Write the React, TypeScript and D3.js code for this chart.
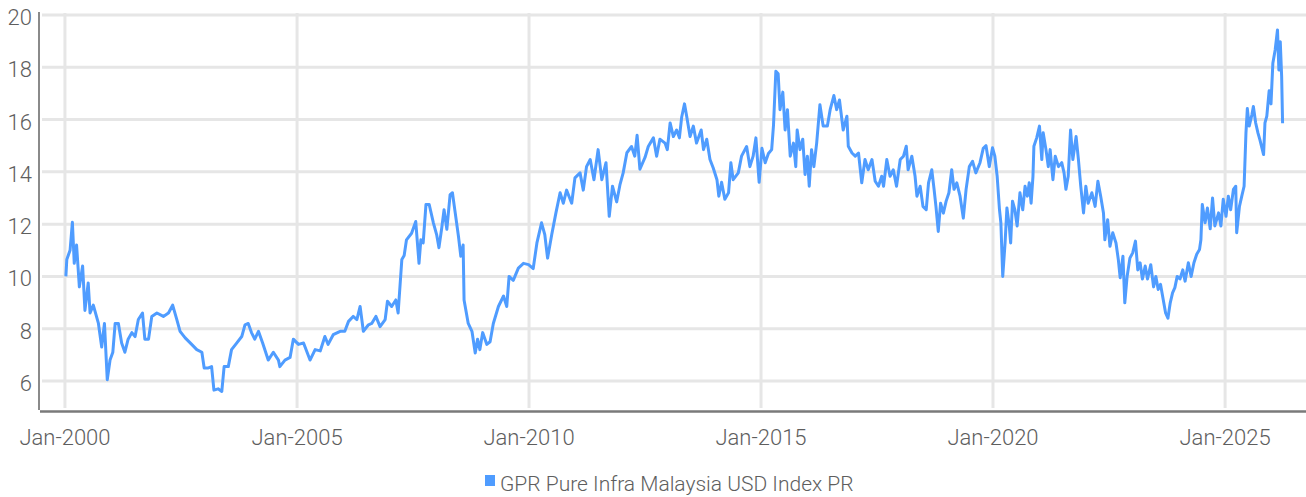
import * as d3 from "d3";
import React from "react";

// decimal years, paired with index values
const years = [
  2000.02, 2000.04, 2000.11, 2000.16, 2000.2, 2000.25, 2000.31, 2000.38, 2000.43, 2000.5,
  2000.54, 2000.61, 2000.72, 2000.79, 2000.85, 2000.91, 2000.97, 2001.03, 2001.08, 2001.15,
  2001.22, 2001.29, 2001.36, 2001.44, 2001.51, 2001.58, 2001.67, 2001.72, 2001.8, 2001.87,
  2001.98, 2002.12, 2002.23, 2002.32, 2002.41, 2002.48, 2002.59, 2002.73, 2002.84, 2002.95,
  2003.0, 2003.09, 2003.16, 2003.21, 2003.3, 2003.38, 2003.43, 2003.52, 2003.59, 2003.7,
  2003.81, 2003.88, 2003.95, 2004.02, 2004.09, 2004.17, 2004.26, 2004.38, 2004.49, 2004.6,
  2004.63, 2004.74, 2004.85, 2004.92, 2005.03, 2005.14, 2005.28, 2005.39, 2005.5, 2005.6,
  2005.67, 2005.78, 2005.93, 2006.03, 2006.11, 2006.21, 2006.29, 2006.36, 2006.43, 2006.54,
  2006.61, 2006.7, 2006.79, 2006.9, 2006.95, 2007.04, 2007.13, 2007.18, 2007.26, 2007.31,
  2007.36, 2007.47, 2007.56, 2007.63, 2007.67, 2007.72, 2007.78, 2007.85, 2007.94, 2008.01,
  2008.06, 2008.12, 2008.17, 2008.23, 2008.3, 2008.35, 2008.41, 2008.48, 2008.53, 2008.58,
  2008.6, 2008.69, 2008.77, 2008.84, 2008.89, 2008.94, 2009.0, 2009.09, 2009.16, 2009.23,
  2009.34, 2009.45, 2009.52, 2009.57, 2009.66, 2009.77, 2009.88, 2009.99, 2010.09, 2010.17,
  2010.27, 2010.34, 2010.4, 2010.49, 2010.58, 2010.67, 2010.74, 2010.81, 2010.92, 2010.99,
  2011.1, 2011.17, 2011.24, 2011.32, 2011.4, 2011.49, 2011.57, 2011.66, 2011.73, 2011.8,
  2011.89, 2011.96, 2012.03, 2012.11, 2012.21, 2012.28, 2012.33, 2012.39, 2012.5, 2012.57,
  2012.68, 2012.75, 2012.82, 2012.93, 2012.98, 2013.04, 2013.11, 2013.18, 2013.24, 2013.29,
  2013.35, 2013.4, 2013.47, 2013.54, 2013.61, 2013.71, 2013.76, 2013.83, 2013.9, 2013.97,
  2014.05, 2014.09, 2014.15, 2014.22, 2014.3, 2014.35, 2014.4, 2014.51, 2014.58, 2014.69,
  2014.76, 2014.83, 2014.89, 2014.96, 2015.02, 2015.09, 2015.16, 2015.23, 2015.27, 2015.32,
  2015.37, 2015.41, 2015.47, 2015.52, 2015.57, 2015.63, 2015.7, 2015.75, 2015.78, 2015.84,
  2015.9, 2015.95, 2016.0, 2016.04, 2016.09, 2016.14, 2016.2, 2016.27, 2016.34, 2016.43,
  2016.49, 2016.57, 2016.63, 2016.69, 2016.77, 2016.85, 2016.88, 2016.96, 2017.03, 2017.1,
  2017.17, 2017.24, 2017.31, 2017.39, 2017.46, 2017.53, 2017.6, 2017.64, 2017.71, 2017.78,
  2017.85, 2017.92, 2018.0, 2018.07, 2018.13, 2018.17, 2018.25, 2018.32, 2018.36, 2018.43,
  2018.49, 2018.56, 2018.61, 2018.68, 2018.73, 2018.77, 2018.82, 2018.87, 2018.93, 2018.99,
  2019.05, 2019.11, 2019.16, 2019.22, 2019.29, 2019.36, 2019.42, 2019.49, 2019.56, 2019.63,
  2019.72, 2019.79, 2019.85, 2019.92, 2019.99, 2020.04, 2020.09, 2020.14, 2020.17, 2020.21,
  2020.26, 2020.3, 2020.35, 2020.38, 2020.42, 2020.47, 2020.52, 2020.58, 2020.64, 2020.69,
  2020.74, 2020.78, 2020.82, 2020.86, 2020.88, 2020.94, 2021.0, 2021.05, 2021.08, 2021.14,
  2021.19, 2021.23, 2021.29, 2021.34, 2021.41, 2021.48, 2021.53, 2021.57, 2021.62, 2021.67,
  2021.72, 2021.79, 2021.84, 2021.89, 2021.95, 2022.0, 2022.05, 2022.13, 2022.2, 2022.26,
  2022.32, 2022.38, 2022.41, 2022.47, 2022.52, 2022.58, 2022.65, 2022.7, 2022.74, 2022.8,
  2022.84, 2022.89, 2022.95, 2023.01, 2023.07, 2023.12, 2023.17, 2023.22, 2023.28, 2023.33,
  2023.4, 2023.46, 2023.51, 2023.56, 2023.61, 2023.67, 2023.72, 2023.77, 2023.82, 2023.87,
  2023.92, 2023.97, 2024.03, 2024.09, 2024.14, 2024.21, 2024.27, 2024.33, 2024.39, 2024.45,
  2024.48, 2024.51, 2024.57, 2024.62, 2024.68, 2024.73, 2024.78, 2024.86, 2024.91, 2024.96,
  2025.02, 2025.07, 2025.12, 2025.18, 2025.23, 2025.25, 2025.31, 2025.36, 2025.41, 2025.45,
  2025.48, 2025.52, 2025.58, 2025.61, 2025.66, 2025.71, 2025.75, 2025.83, 2025.86, 2025.9,
  2025.95, 2025.99, 2026.03, 2026.08, 2026.13, 2026.16, 2026.19, 2026.22, 2026.24,
];

const values = [
  10.0, 10.65, 11.0, 12.07, 10.5, 11.2, 9.6, 10.4, 8.7, 9.75,
  8.6, 8.9, 8.2, 7.3, 8.2, 6.05, 6.8, 7.1, 8.2, 8.2,
  7.45, 7.1, 7.6, 7.85, 7.7, 8.35, 8.6, 7.6, 7.6, 8.47,
  8.6, 8.47, 8.6, 8.9, 8.35, 7.9, 7.65, 7.4, 7.2, 7.1,
  6.5, 6.5, 6.55, 5.65, 5.7, 5.6, 6.55, 6.55, 7.2, 7.45,
  7.7, 8.15, 8.2, 7.85, 7.6, 7.9, 7.45, 6.8, 7.1, 6.8,
  6.55, 6.8, 6.9, 7.6, 7.4, 7.45, 6.8, 7.2, 7.15, 7.7,
  7.4, 7.77, 7.9, 7.9, 8.28, 8.47, 8.35, 8.85, 7.9, 8.15,
  8.2, 8.47, 8.08, 8.35, 9.05, 8.85, 9.1, 8.6, 10.65, 10.8,
  11.4, 11.65, 12.1, 10.5, 11.4, 11.28, 12.75, 12.75, 12.05, 11.6,
  11.1, 11.85, 12.55, 11.8, 13.13, 13.2, 12.43, 11.53, 10.77, 11.2,
  9.1, 8.2, 7.9, 7.07, 7.6, 7.2, 7.85, 7.4, 7.5, 8.2,
  8.85, 9.25, 8.85, 10.0, 9.85, 10.32, 10.5, 10.45, 10.3, 11.28,
  12.05, 11.6, 10.7, 11.6, 12.43, 13.2, 12.8, 13.3, 12.8, 13.77,
  13.96, 13.3, 14.2, 14.47, 13.7, 14.85, 13.7, 14.35, 12.3, 13.45,
  12.85, 13.5, 13.96, 14.73, 14.97, 14.6, 15.4, 14.1, 14.55, 14.97,
  15.3, 14.6, 15.25, 15.1, 14.85, 15.87, 15.35, 15.6, 15.3, 16.1,
  16.6, 16.1, 15.35, 15.75, 15.1, 15.6, 14.85, 15.25, 14.47, 14.15,
  13.7, 13.07, 13.6, 12.95, 13.2, 14.35, 13.7, 13.96, 14.6, 14.97,
  14.2, 14.6, 15.3, 13.6, 14.9, 14.35, 14.7, 14.85, 15.8, 17.85,
  17.75, 16.38, 17.05, 15.6, 16.38, 14.6, 15.1, 14.2, 15.6, 14.85,
  15.25, 13.9, 14.6, 13.45, 14.85, 14.2, 15.1, 16.57, 15.75, 15.75,
  16.38, 16.92, 16.38, 16.75, 15.6, 16.13, 14.98, 14.72, 14.6, 14.72,
  13.58, 14.47, 14.08, 14.47, 13.64, 13.45, 13.83, 13.45, 14.47, 13.83,
  14.08, 13.45, 14.47, 14.6, 14.98, 14.08, 14.6, 13.83, 13.07, 13.45,
  12.68, 12.55, 13.58, 14.08, 13.33, 12.68, 11.72, 12.8, 12.42, 12.88,
  13.2, 14.08, 13.33, 13.58, 13.07, 12.23, 13.33, 14.2, 14.4, 13.96,
  14.35, 14.9, 15.0, 14.2, 14.92, 14.6, 13.83, 12.55, 12.05, 10.0,
  11.28, 12.62, 11.93, 11.28, 12.88, 12.55, 11.93, 13.2, 12.55, 13.45,
  13.07, 13.58, 12.8, 13.83, 14.98, 15.3, 15.75, 14.47, 15.5, 14.85,
  14.2, 14.85, 13.7, 14.6, 14.2, 14.35, 13.96, 13.33, 13.83, 15.6,
  14.47, 15.35, 14.47, 13.45, 12.43, 13.45, 12.8, 13.2, 12.68, 13.64,
  13.07, 12.43, 11.4, 12.17, 11.15, 11.67, 11.28, 10.65, 9.95, 10.77,
  8.99, 10.0, 10.7, 10.9, 11.35, 10.25, 10.52, 9.9, 10.4, 9.9,
  10.45, 9.6, 10.0, 9.5, 9.7, 9.1, 8.6, 8.4, 8.99, 9.37,
  9.57, 10.0, 9.9, 10.25, 9.82, 10.52, 10.0, 10.52, 10.85, 11.03,
  11.4, 12.75, 12.05, 12.62, 11.82, 13.0, 11.93, 12.43, 11.93, 12.95,
  12.3, 13.07, 12.55, 13.33, 13.45, 11.67, 12.68, 13.07, 13.45, 15.48,
  16.42, 15.75, 16.2, 16.5, 15.87, 15.48, 15.23, 14.66, 15.87, 16.13,
  17.1, 16.6, 18.15, 18.66, 19.43, 17.9, 18.98, 17.64, 15.86,
];

const xTickYears = [2000, 2005, 2010, 2015, 2020, 2025];
const xTickLabels = ["Jan-2000", "Jan-2005", "Jan-2010", "Jan-2015", "Jan-2020", "Jan-2025"];
const yTicks = [6, 8, 10, 12, 14, 16, 18, 20];
const seriesName = "GPR Pure Infra Malaysia USD Index PR";

const WIDTH = 1306;
const HEIGHT = 497;
const LINE = "#4f9cff";
const GRID = "#e6e6e6";
const TEXT = "#5e5e5e";
const FONT = "Roboto, 'Liberation Sans', sans-serif";

const toDate = (yr: number) => {
  const y = Math.floor(yr);
  const start = new Date(y, 0, 1).getTime();
  const end = new Date(y + 1, 0, 1).getTime();
  return new Date(start + (yr - y) * (end - start));
};

export default function App() {
  const left = 40;
  const right = WIDTH;
  const top = 13;
  const bottom = 410;

  const x = d3
    .scaleTime()
    .domain([toDate(1999.462), toDate(2026.745)])
    .range([left, right]);

  const y = d3.scaleLinear().domain([4.89, 20]).range([bottom, 15]);

  const data = years.map((yr, i) => ({ date: toDate(yr), value: values[i] }));

  const line = d3
    .line<{ date: Date; value: number }>()
    .x((d) => x(d.date))
    .y((d) => y(d.value));

  return (
    <svg
      width={WIDTH}
      height={HEIGHT}
      style={{ position: "absolute", left: 0, top: 0, background: "#fff" }}
      fontFamily={FONT}
    >
      {/* horizontal grid */}
      {yTicks.map((t) => (
        <line key={"h" + t} x1={left + 2} x2={right} y1={y(t)} y2={y(t)} stroke={GRID} strokeWidth={3} />
      ))}
      {/* vertical grid */}
      {xTickYears.map((yr) => (
        <line
          key={"v" + yr}
          x1={x(toDate(yr))}
          x2={x(toDate(yr))}
          y1={top}
          y2={bottom - 2}
          stroke={GRID}
          strokeWidth={3}
        />
      ))}

      {/* axes */}
      <line x1={39} x2={39} y1={12} y2={bottom} stroke="#8a8a8a" strokeWidth={2} />
      <line x1={left} x2={right} y1={bottom + 1.5} y2={bottom + 1.5} stroke="#7a7a7a" strokeWidth={2.5} />

      {/* series */}
      <path d={line(data) ?? ""} fill="none" stroke={LINE} strokeWidth={3} strokeLinejoin="round" />

      {/* y labels */}
      {yTicks.map((t) => (
        <text
          key={"yl" + t}
          x={32}
          y={y(t) + 10}
          textAnchor="end"
          fontSize={22}
          fontWeight={300}
          fill={TEXT}
        >
          {t}
        </text>
      ))}

      {/* x labels */}
      {xTickYears.map((yr, i) => (
        <text
          key={"xl" + yr}
          x={x(toDate(yr))}
          y={445}
          textAnchor="middle"
          fontSize={22}
          fontWeight={300}
          fill={TEXT}
        >
          {xTickLabels[i]}
        </text>
      ))}

      {/* legend */}
      <rect x={485} y={475} width={10} height={11} fill={LINE} />
      <text x={500} y={491} fontSize={21} fontWeight={300} fill={TEXT}>
        {seriesName}
      </text>
    </svg>
  );
}
